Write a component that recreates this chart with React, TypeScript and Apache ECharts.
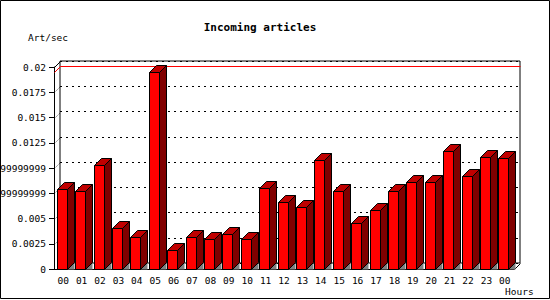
import React, { useEffect, useRef } from "react";
import * as echarts from "echarts";

const categories = ["00", "01", "02", "03", "04", "05", "06", "07", "08", "09", "10", "11", "12", "13", "14", "15", "16", "17", "18", "19", "20", "21", "22", "23", "00"];
const articlesPerSec = [0.0079, 0.0077, 0.0103, 0.0041, 0.0032, 0.0195, 0.00185, 0.0032, 0.0030, 0.0035, 0.0030, 0.0080, 0.0066, 0.0061, 0.0108, 0.0077, 0.0046, 0.0058, 0.0077, 0.0086, 0.0086, 0.0117, 0.0092, 0.0111, 0.0110];
const yTicks = [0, 0.0025, 0.005, 0.0075, 0.01, 0.0125, 0.015, 0.0175, 0.02];
const yTickLabels = ["0", "0.0025", "0.005", "0.0074999999999999", "0.0099999999999999", "0.0125", "0.015", "0.0175", "0.02"];
const chartTitle = "Incoming articles";
const yUnit = "Art/sec";
const xUnit = "Hours";

const FONT = "DejaVu Sans Mono";
const SHIFT = 6;

export default function App() {
  const ref = useRef<HTMLDivElement>(null);
  useEffect(() => {
    document.body.style.margin = "0";
    const chart = echarts.init(ref.current as HTMLDivElement, null, { renderer: "svg" });
    const yMax = yTicks[yTicks.length - 1];
    const yInterval = yTicks[1] - yTicks[0];
    const maxVal = Math.max(...articlesPerSec);
    const barData = articlesPerSec.map((v, i) => [i, v]);

    const option: any = {
      animation: false,
      backgroundColor: "#fff",
      grid: [
        { left: 54 + SHIFT, top: 67 - SHIFT, width: 460, height: 202, show: true, backgroundColor: "#fff", borderColor: "#000", borderWidth: 1, containLabel: false, outerBoundsMode: "none" },
        { left: 54, top: 67, width: 460, height: 202, containLabel: false, outerBoundsMode: "none" },
      ],
      xAxis: [
        { type: "category", gridIndex: 0, data: categories, show: false },
        {
          type: "category", gridIndex: 1, data: categories, boundaryGap: true,
          axisLine: { lineStyle: { color: "#000", width: 1 } },
          axisTick: { length: 4, lineStyle: { color: "#000" } },
          axisLabel: { interval: 0, margin: 6, color: "#000", fontFamily: FONT, fontSize: 9.5, hideOverlap: false },
        },
      ],
      yAxis: [
        {
          type: "value", gridIndex: 0, min: 0, max: yMax, interval: yInterval,
          axisLine: { show: false }, axisTick: { show: false }, axisLabel: { show: false },
          splitLine: { show: true, lineStyle: { color: "#000", type: [2, 4], width: 1 } },
        },
        {
          type: "value", gridIndex: 1, min: 0, max: yMax, interval: yInterval,
          axisLine: { show: true, lineStyle: { color: "#000", width: 1 } },
          axisTick: { show: true, length: 5, lineStyle: { color: "#000" } },
          splitLine: { show: false },
          axisLabel: {
            margin: 8, color: "#000", fontFamily: FONT, fontSize: 9.5, hideOverlap: false,
            formatter: (_v: number, idx: number) => yTickLabels[idx] ?? String(_v),
          },
        },
      ],
      series: [
        {
          type: "custom", xAxisIndex: 0, yAxisIndex: 0, z: 1, silent: true,
          data: [[0, maxVal]],
          renderItem: (params: any, api: any) => {
            const cs = params.coordSys;
            const yr = Math.round(api.coord([0, api.value(1)])[1]) + 0.5;
            const x0 = Math.round(cs.x) + 0.5;
            const xr = Math.round(cs.x + cs.width) + 0.5;
            const yt = Math.round(cs.y) + 0.5;
            const yb = Math.round(cs.y + cs.height) + 0.5;
            const children: any[] = [];
            yTicks.slice(1, -1).forEach((t) => {
              const yy = Math.round(api.coord([0, t])[1]) + 0.5;
              children.push({ type: "polyline", shape: { points: [[x0 - SHIFT, yy + SHIFT], [x0, yy]] }, style: { stroke: "#000", lineWidth: 1, lineDash: [1, 2], fill: null } });
            });
            children.push({ type: "polyline", shape: { points: [[x0 - SHIFT, yt + SHIFT], [x0, yt]] }, style: { stroke: "#000", lineWidth: 1, fill: null } });
            children.push({ type: "polyline", shape: { points: [[xr, yb], [xr - SHIFT, yb + SHIFT]] }, style: { stroke: "#000", lineWidth: 1, fill: null } });
            children.push({ type: "polyline", shape: { points: [[x0 - SHIFT, yr + SHIFT], [x0, yr], [xr, yr]] }, style: { stroke: "#ff0000", lineWidth: 1, fill: null } });
            return { type: "group", children };
          },
        },
        {
          type: "custom", xAxisIndex: 1, yAxisIndex: 1, z: 3, silent: true,
          data: barData,
          renderItem: (_params: any, api: any) => {
            const i = api.value(0);
            const v = api.value(1);
            const t = api.coord([i, v]);
            const b = api.coord([i, 0]);
            const band = api.size([1, 0])[0];
            const x0 = Math.round(t[0] - band * 0.35) + 0.5;
            const w = Math.round(band * 0.56);
            const d = 7;
            const ty = Math.round(t[1]) + 0.5;
            const by = Math.round(b[1]) + 0.5;
            const x1 = x0 + w;
            const st = { stroke: "#000", lineWidth: 1 };
            return {
              type: "group",
              children: [
                { type: "polygon", shape: { points: [[x1, by], [x1 + d, by - d], [x1 + d, by]] }, style: { fill: "#808080" } },
                { type: "polygon", shape: { points: [[x1, ty], [x1 + d, ty - d], [x1 + d, by - d], [x1, by]] }, style: { fill: "#800000", ...st } },
                { type: "polygon", shape: { points: [[x0, ty], [x1, ty], [x1 + d, ty - d], [x0 + d, ty - d]] }, style: { fill: "#c00000", ...st } },
                { type: "rect", shape: { x: x0, y: ty, width: w, height: by - ty }, style: { fill: "#ff0000", ...st } },
              ],
            };
          },
        },
      ],
      graphic: [
        { type: "text", x: 260, y: 27, style: { text: chartTitle, fill: "#000", font: `bold 11px "${FONT}"`, textAlign: "center", textVerticalAlign: "middle" } },
        { type: "text", x: 28, y: 37, style: { text: yUnit, fill: "#000", font: `9.5px "${FONT}"`, textAlign: "left", textVerticalAlign: "middle" } },
        { type: "text", x: 505, y: 291, style: { text: xUnit, fill: "#000", font: `9.5px "${FONT}"`, textAlign: "left", textVerticalAlign: "middle" } },
        { type: "rect", z: 100, silent: true, shape: { x: 0.5, y: 0.5, width: 549, height: 298 }, style: { fill: "none", stroke: "#000", lineWidth: 1 } },
      ],
    };
    chart.setOption(option);
    return () => chart.dispose();
  }, []);
  return <div ref={ref} style={{ width: 550, height: 300 }} />;
}
